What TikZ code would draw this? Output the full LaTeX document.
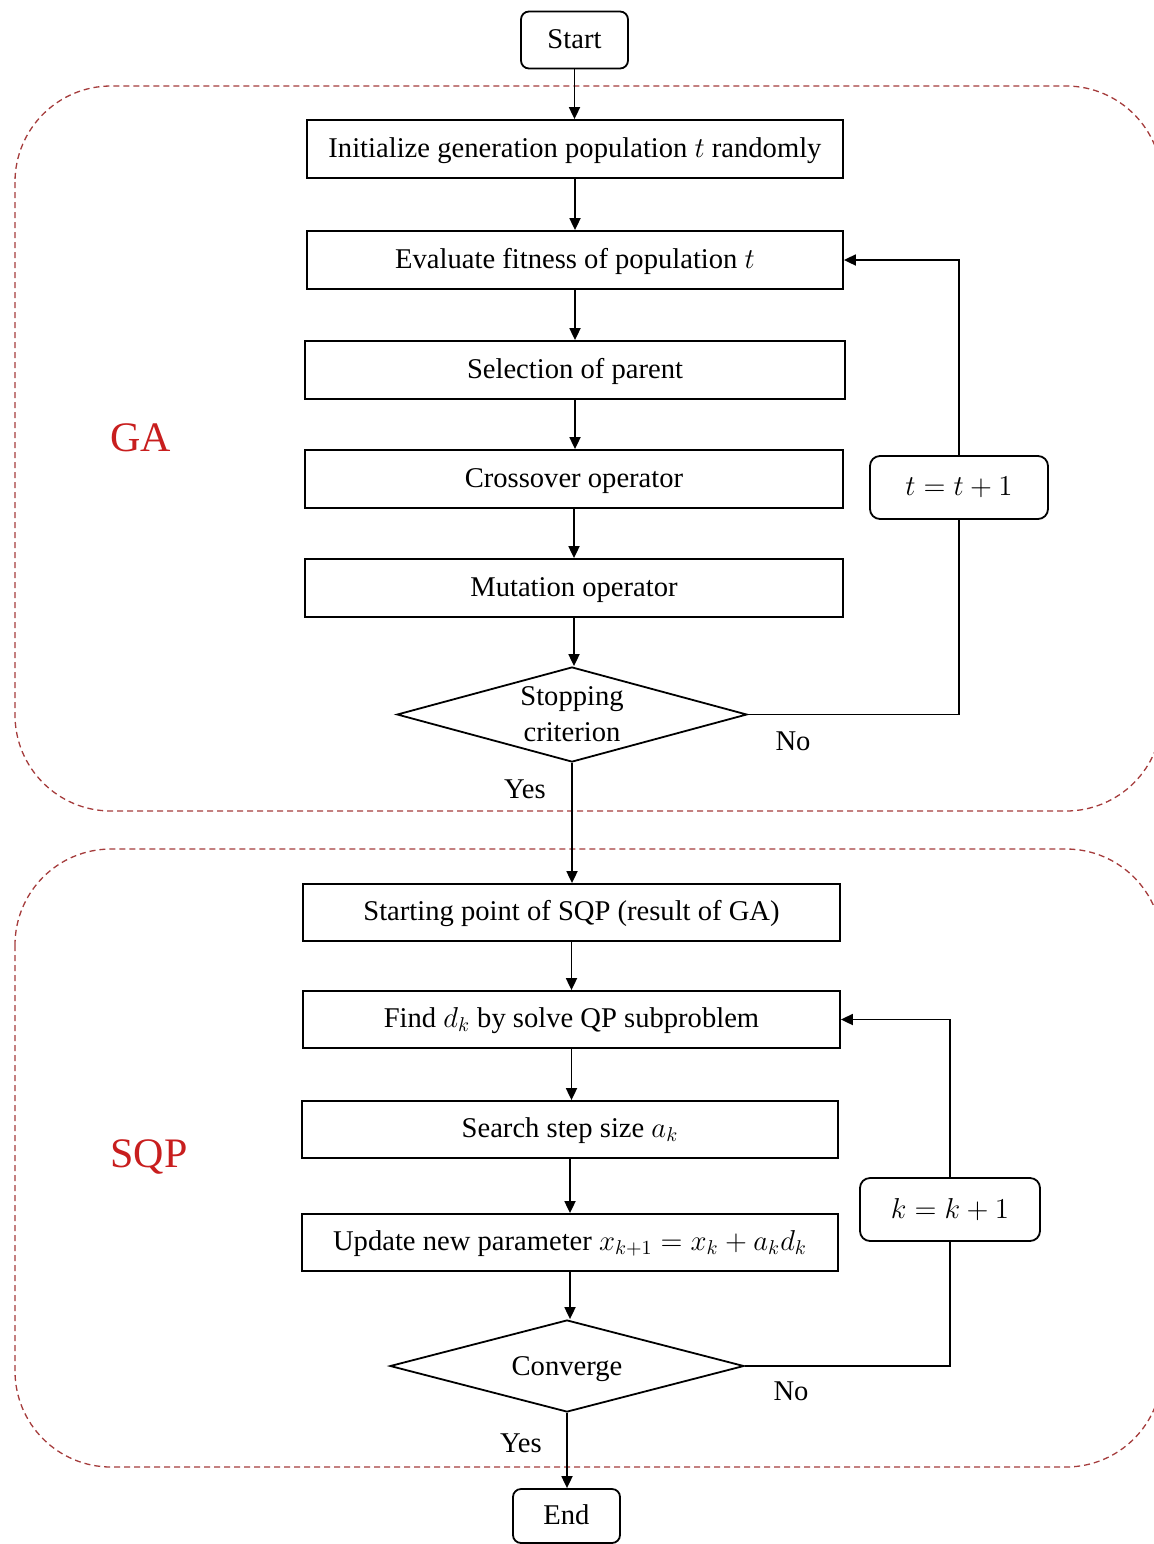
\documentclass[tikz,border=0pt]{standalone}
\usepackage{fontspec}
\setmainfont{Liberation Serif}
\usetikzlibrary{arrows.meta,shapes.geometric}
\definecolor{regionred}{RGB}{165,60,60}
\definecolor{labelred}{RGB}{200,30,30}
\tikzset{
  base/.style={font=\fontsize{14.3pt}{18pt}\selectfont, line width=0.9pt},
  procbox/.style={base, draw, rectangle, inner sep=0pt, text height=10.5pt, text depth=2.5pt, minimum width=268pt, minimum height=29pt},
  termbox/.style={base, draw, rectangle, rounded corners=4pt, inner sep=0pt, text height=10.5pt, text depth=2.5pt, minimum width=53.5pt, minimum height=28.5pt},
  incbox/.style={base, draw, rectangle, rounded corners=5pt, inner sep=0pt, minimum width=89pt, minimum height=31.5pt},
  decision/.style={base, draw, diamond, inner sep=0pt},
  lbl/.style={font=\fontsize{14.3pt}{18pt}\selectfont, inner sep=0pt},
  regionlbl/.style={font=\fontsize{21pt}{25pt}\selectfont, text=labelred, inner sep=0pt},
  region/.style={draw=regionred, line width=0.65pt, dash pattern=on 3pt off 2pt, rounded corners=48pt},
  flow/.style={line width=0.9pt, -{Triangle[length=6pt,width=5.5pt]}},
  plain/.style={line width=0.9pt}
}
\newcommand{\twoline}[2]{\smash{\makebox[0pt]{\raisebox{-4.5pt}{\begin{tabular}{@{}c@{}}#1\\#2\end{tabular}}}}}
\newcommand{\oneline}[1]{\smash{\makebox[0pt]{\raisebox{-4.5pt}{#1}}}}
\newcommand{\incmath}[1]{{\fontsize{15.5pt}{18pt}\selectfont$#1$}}
\begin{document}
\begin{tikzpicture}[x=0.5pt,y=-0.5pt]
\useasboundingbox (0,0) rectangle (1154,1544);
\clip (0,0) rectangle (1154,1544);

% regions
\draw[region] (15,86) rectangle (1162,811);
\draw[region] (15,849) rectangle (1162,1467);
\node[regionlbl] (galbl) at (141,438) {GA};
\node[regionlbl] (sqplbl) at (149,1157) {SQP};

% GA part
\node[termbox] (start) at (574.5,40) {Start};
\node[procbox] (init) at (575,149) {Initialize generation population $t$ randomly};
\node[procbox] (eval) at (575,260) {Evaluate fitness of population $t$};
\node[procbox, minimum width=270pt] (sel) at (575,370) {Selection of parent};
\node[procbox, minimum width=269pt] (cross) at (574,479) {Crossover operator};
\node[procbox, minimum width=269pt] (mut) at (574,588) {Mutation operator};
\node[decision, minimum width=175pt, minimum height=47.5pt] (stop) at (572,714.5) {\twoline{Stopping}{criterion}};
\node[incbox] (tinc) at (959,487.5) {\incmath{t = t + 1}};
\node[lbl] (no1) at (793,741) {No};
\node[lbl] (yes1) at (525,789) {Yes};

% SQP part
\node[procbox, minimum width=268.5pt, minimum height=28.5pt] (sp) at (571.5,912.5) {Starting point of SQP (result of GA)};
\node[procbox, minimum width=268.5pt, minimum height=28.5pt] (find) at (571.5,1019.5) {Find $d_k$ by solve QP subproblem};
\node[procbox, minimum height=28.5pt] (search) at (570,1129.5) {Search step size $a_k$};
\node[procbox, minimum height=28.5pt] (upd) at (570,1242.5) {Update new parameter $x_{k+1} = x_k + a_k d_k$};
\node[decision, minimum width=177pt, minimum height=46pt] (conv) at (567,1366) {\oneline{Converge}};
\node[incbox, minimum width=90pt] (kinc) at (950,1209.5) {\incmath{k = k + 1}};
\node[lbl] (no2) at (791,1391) {No};
\node[lbl] (yes2) at (521,1443) {Yes};
\node[termbox, minimum height=27pt] (end) at (566.5,1516) {End};

% main flow
\draw[flow] (start.south) -- (start.south |- init.north);
\draw[flow] (init.south) -- (init.south |- eval.north);
\draw[flow] (eval.south) -- (eval.south |- sel.north);
\draw[flow] (sel.south) -- (sel.south |- cross.north);
\draw[flow] (cross.south) -- (cross.south |- mut.north);
\draw[flow] (mut.south) -- (mut.south |- stop.north);
\draw[flow] (stop.south) -- (stop.south |- sp.north);
\draw[flow] (sp.south) -- (sp.south |- find.north);
\draw[flow] (find.south) -- (find.south |- search.north);
\draw[flow] (search.south) -- (search.south |- upd.north);
\draw[flow] (upd.south) -- (upd.south |- conv.north);
\draw[flow] (conv.south) -- (conv.south |- end.north);

% loops
\draw[plain] (stop.east) -- (tinc.south |- stop.east) -- (tinc.south);
\draw[flow] (tinc.north) |- (eval.east);
\draw[plain] (conv.east) -- (kinc.south |- conv.east) -- (kinc.south);
\draw[flow] (kinc.north) |- (find.east);
\end{tikzpicture}
\end{document}
